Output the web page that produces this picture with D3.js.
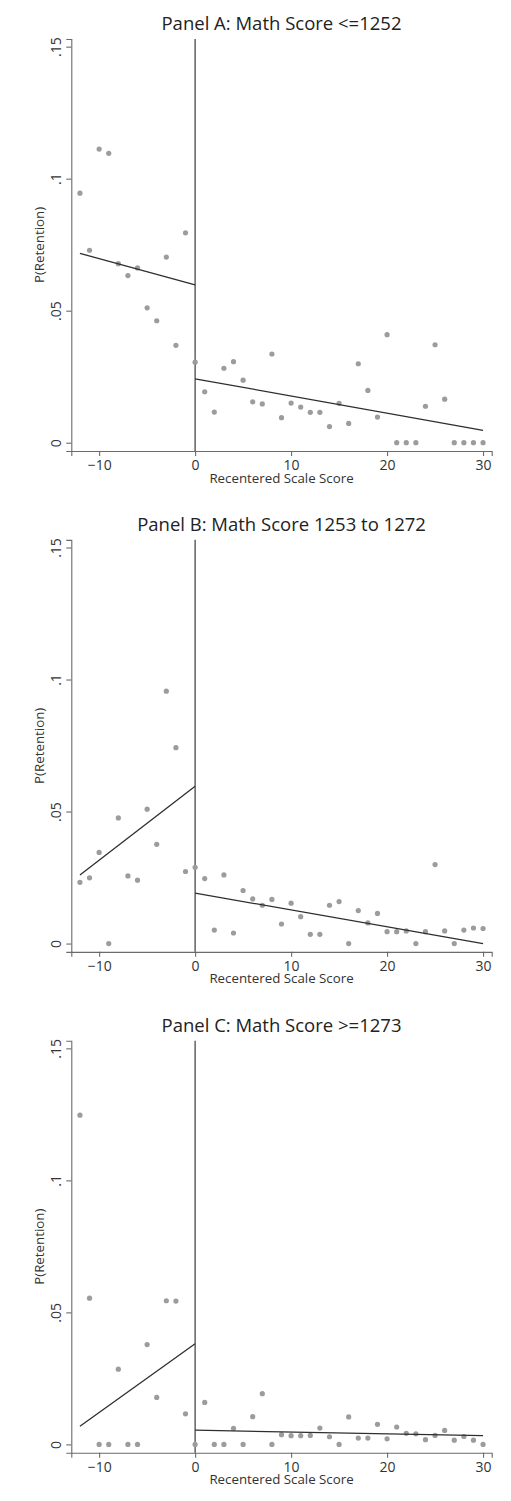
<!DOCTYPE html>
<html>
<head>
<meta charset="utf-8">
<script src="https://cdn.jsdelivr.net/npm/d3@7"></script>
<style>
  html, body { margin: 0; padding: 0; background: #fff; }
  svg { display: block; font-family: "Open Sans", "Noto Sans", sans-serif; }
</style>
</head>
<body>
<svg id="chart" width="511" height="1501"></svg>
<script>
// Recentered scale score bins (-12 .. 30)
const scores = d3.range(-12, 31);

const panelTitles = [
  "Panel A: Math Score <=1252",
  "Panel B: Math Score 1253 to 1272",
  "Panel C: Math Score >=1273"
];

// Share retained in each score bin
const retentionA = [
  0.0945, 0.0729, 0.1112, 0.1096, 0.0678, 0.0633, 0.0662, 0.0511, 0.0462, 0.0703, 0.0369, 0.0795,
  0.0305, 0.0193, 0.0116, 0.0282, 0.0307, 0.0237, 0.0155, 0.0147, 0.0336, 0.0095, 0.0150,
  0.0135, 0.0115, 0.0115, 0.0061, 0.0149, 0.0073, 0.0299, 0.0198, 0.0097, 0.0409,
  0, 0, 0, 0.0138, 0.0371, 0.0165, 0, 0, 0, 0
];
const retentionB = [
  0.0232, 0.0249, 0.0345, 0, 0.0476, 0.0256, 0.0240, 0.0509, 0.0376, 0.0956, 0.0742, 0.0273,
  0.0289, 0.0246, 0.0051, 0.0260, 0.0040, 0.0201, 0.0169, 0.0145, 0.0167, 0.0074, 0.0153,
  0.0102, 0.0035, 0.0035, 0.0145, 0.0159, 0, 0.0125, 0.0078, 0.0114, 0.0045,
  0.0045, 0.0048, 0, 0.0045, 0.0299, 0.0048, 0, 0.0051, 0.0059, 0.0057
];
const retentionC = [
  0.1247, 0.0554, 0, 0, 0.0285, 0, 0, 0.0378, 0.0178, 0.0544, 0.0543, 0.0116,
  0, 0.0159, 0, 0, 0.0061, 0, 0.0105, 0.0192, 0, 0.0037, 0.0033,
  0.0033, 0.0034, 0.0062, 0.0029, 0, 0.0104, 0.0024, 0.0024, 0.0076, 0.0021,
  0.0066, 0.0042, 0.0040, 0.0018, 0.0034, 0.0053, 0.0016, 0.0030, 0.0016, 0
];

// Linear fits on each side of the cutoff: [x0, y0, x1, y1]
const fitLeftA  = [-12, 0.0717, 0, 0.0598];
const fitRightA = [0, 0.0242, 30, 0.0047];
const fitLeftB  = [-12, 0.0260, 0, 0.0596];
const fitRightB = [0, 0.0191, 30, 0.0000];
const fitLeftC  = [-12, 0.0069, 0, 0.0381];
const fitRightC = [0, 0.0054, 30, 0.0033];

const xTicks = [-10, 0, 10, 20, 30];
const yTicks = [0, 0.05, 0.1, 0.15];
const yTickLabels = ["0", ".05", ".1", ".15"];

const panels = [
  { title: panelTitles[0], values: retentionA, left: fitLeftA, right: fitRightA },
  { title: panelTitles[1], values: retentionB, left: fitLeftB, right: fitRightB },
  { title: panelTitles[2], values: retentionC, left: fitLeftC, right: fitRightC }
];

const svg = d3.select("#chart");
const panelStep = 500.85;
const plotTop = 39, plotBottom = 451;
const plotLeft = 71.3, plotRight = 491.7;

const x = d3.scaleLinear().domain([-12.9, 30.9]).range([plotLeft, plotRight]);

panels.forEach((p, i) => {
  const g = svg.append("g").attr("transform", `translate(0,${i * panelStep})`);
  const y = d3.scaleLinear().domain([-0.00314, 0.1529]).range([plotBottom, plotTop]);

  // title
  g.append("text")
    .attr("x", 281.5).attr("y", 30)
    .attr("text-anchor", "middle")
    .attr("font-size", 18.5)
    .attr("fill", "#222")
    .text(p.title);

  // x axis
  const xa = g.append("g")
    .attr("transform", `translate(0,${plotBottom})`)
    .call(d3.axisBottom(x).tickValues(xTicks).tickFormat(d3.format("d")).tickSizeOuter(0).tickSize(5).tickPadding(4));
  // y axis
  const ya = g.append("g")
    .attr("transform", `translate(${plotLeft},0)`)
    .call(d3.axisLeft(y).tickValues(yTicks).tickFormat((d, k) => yTickLabels[k]).tickSizeOuter(0).tickSize(5));

  [xa, ya].forEach(a => {
    a.select(".domain").attr("stroke", "#6a6a6a").attr("stroke-width", 1.1);
    a.selectAll(".tick line").attr("stroke", "#6a6a6a").attr("stroke-width", 1.1);
    a.selectAll(".tick text").attr("fill", "#333").attr("font-size", 14)
      .attr("font-family", "'Open Sans', 'Noto Sans', sans-serif");
  });
  ya.selectAll(".tick text")
    .attr("x", null).attr("dy", null).attr("y", null)
    .attr("text-anchor", "middle")
    .attr("transform", "translate(-10.5,0) rotate(-90)");

  // axis titles
  g.append("text")
    .attr("x", 281.5).attr("y", plotBottom + 31.5)
    .attr("text-anchor", "middle")
    .attr("font-size", 13.3)
    .attr("fill", "#333")
    .text("Recentered Scale Score");
  g.append("text")
    .attr("transform", `translate(44,${(plotTop + plotBottom) / 2}) rotate(-90)`)
    .attr("text-anchor", "middle")
    .attr("font-size", 13.3)
    .attr("fill", "#333")
    .text("P(Retention)");

  // cutoff line at 0
  g.append("line")
    .attr("x1", x(0)).attr("x2", x(0))
    .attr("y1", plotTop).attr("y2", plotBottom)
    .attr("stroke", "#4a4a4a").attr("stroke-width", 1.3);

  // binned means
  g.append("g").selectAll("circle")
    .data(scores.map((s, k) => ({ s, v: p.values[k] })))
    .join("circle")
    .attr("cx", d => x(d.s))
    .attr("cy", d => y(d.v))
    .attr("r", 2.6)
    .attr("fill", "#9c9c9c");

  // fitted lines
  [p.left, p.right].forEach(f => {
    g.append("line")
      .attr("x1", x(f[0])).attr("y1", y(f[1]))
      .attr("x2", x(f[2])).attr("y2", y(f[3]))
      .attr("stroke", "#2e2e2e").attr("stroke-width", 1.3);
  });
});
</script>
</body>
</html>
